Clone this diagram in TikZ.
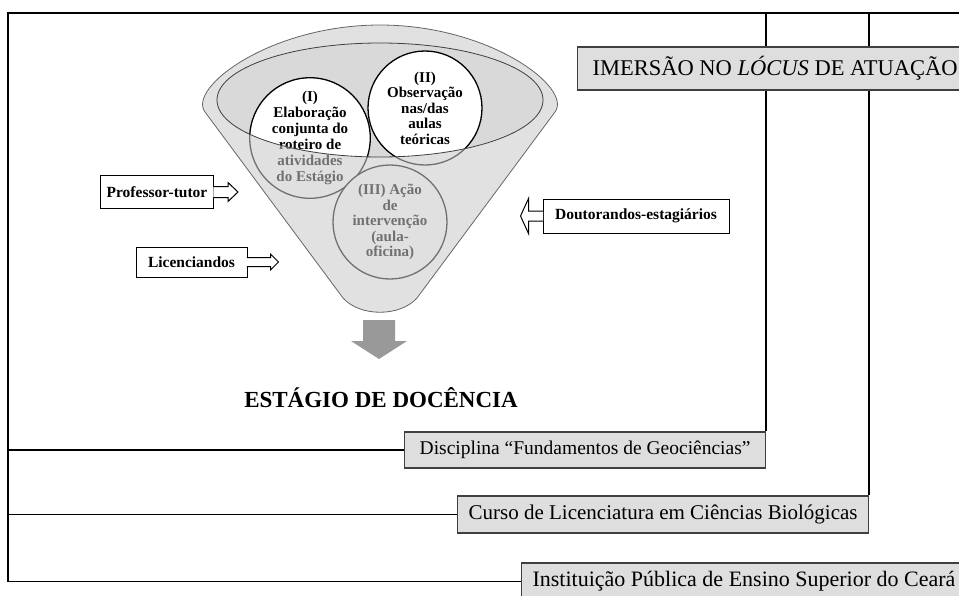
\documentclass[tikz,border=0pt]{standalone}
\usepackage{fontspec}
\setmainfont{Liberation Serif}
\usepackage{tikz}
\usetikzlibrary{backgrounds}

\tikzset{
	levelbox/.style = {draw=black!75, line width=1.2pt, fill=black!13, inner ysep=0pt, minimum height=36, anchor=west},
	actor/.style = {draw, line width=1pt, fill=white, inner sep=0pt, font=\fontsize{15.5}{18}\selectfont\bfseries},
	hollow/.style = {draw, line width=1pt, fill=white, line join=miter},
	frameline/.style = {line width=1.5pt}
}

\begin{document}
\begin{tikzpicture}[x=1pt, y=-1pt]
		\useasboundingbox (0,0) rectangle (959,595);
		\clip (0,0) rectangle (959,595);
		\coordinate (tl) at (8,13);
		\coordinate (tr) at (959,13);
		\begin{scope}[every node/.style = {levelbox}]
			\node[minimum width=361, inner xsep=0pt, font=\fontsize{19.5}{24}\selectfont] (disc) at (404,450) {Disciplina “Fundamentos de Geociências”};
			\node[minimum width=411, inner xsep=0pt, minimum height=37, font=\fontsize{21}{25}\selectfont] (curso) at (457,514.5) {Curso de Licenciatura em Ciências Biológicas};
			\node[inner xsep=11, minimum height=37, font=\fontsize{22}{26}\selectfont] (inst) at (521,581.5) {Instituição Pública de Ensino Superior do Ceará};
			\node[inner xsep=15, minimum height=43, font=\fontsize{22.5}{26}\selectfont] (imersao) at (577,68.5) {IMERSÃO NO \textit{LÓCUS} DE ATUAÇÃO};
		\end{scope}
		\begin{pgfonlayer}{background}
			\begin{scope}[frameline]
				\draw (inst.west) -| (tl) -- (tr);
				\draw (curso.west) -- (curso.west -| tl);
				\draw (disc.west) -- (disc.west -| tl);
				\draw (disc.north east) -- (disc.north east |- tl);
				\draw (curso.north east) -- (curso.north east |- tl);
			\end{scope}
		\end{pgfonlayer}
		\fill[black!15] (380,100) ellipse [x radius=163, y radius=57];
		\begin{scope}[every node/.style = {circle, draw, line width=1.3pt, fill=white, minimum size=114, inner sep=0pt, align=center, font=\fontsize{15}{15.5}\selectfont\bfseries}]
			\node[minimum size=112, font=\fontsize{15}{16}\selectfont\bfseries] (s1) at (310,138) {(I)\\Elaboração\\conjunta do\\roteiro de\\atividades\\do Estágio};
			\node (s2) at (425,108) {(II)\\Observação\\nas/das\\aulas\\teóricas};
			\node (s3) at (390,222) {(III) Ação\\de\\intervenção\\(aula-\\oficina)};
		\end{scope}
		\fill[black!21, fill opacity=0.56, even odd rule] (343,298) -- (205,112) .. controls (187,88) and (270,25) .. (380,25) .. controls (490,25) and (573,88) .. (555,112) -- (417,298) .. controls (400,317) and (360,317) .. (343,298) -- cycle (380,100) ellipse [x radius=163, y radius=57];
		\draw[black!60, line width=0.8pt] (343,298) -- (205,112) .. controls (187,88) and (270,25) .. (380,25) .. controls (490,25) and (573,88) .. (555,112) -- (417,298) .. controls (400,317) and (360,317) .. (343,298) -- cycle;
		\draw[black!75, line width=0.8pt] (380,100) ellipse [x radius=163, y radius=57];
		\fill[black!40] (363,320) -- (395,320) -- (395,341) -- (407,341) -- (379,359) -- (351,341) -- (363,341) -- cycle;
		\node[anchor=base, font=\fontsize{23}{28}\selectfont\bfseries] (title) at (381,407) {ESTÁGIO DE DOCÊNCIA};
		\begin{scope}[every node/.style = {actor}]
			\node[minimum width=113, minimum height=33] (prof) at (157,192) {Professor-tutor};
			\node[minimum width=111, minimum height=30] (lic) at (191.5,262) {Licenciandos};
			\node[minimum width=186, minimum height=34] (dout) at (636,216) {Doutorandos-estagiários};
		\end{scope}
		\draw[hollow] (prof.east) ++(-0.6,-5.5) -- ++(14.6,0) -- ++(0,-4) -- ++(10,9.5) -- ++(-10,9.5) -- ++(0,-4) -- ++(-14.6,0);
		\draw[hollow] (lic.east) ++(-0.6,-4.5) -- ++(23.6,0) -- ++(0,-3.5) -- ++(8,8) -- ++(-8,8) -- ++(0,-3.5) -- ++(-23.6,0);
		\draw[hollow] (dout.west) ++(0.6,-5) -- ++(-14.6,0) -- ++(0,-12.5) -- ++(-8,17.5) -- ++(8,17.5) -- ++(0,-12.5) -- ++(14.6,0);
	\end{tikzpicture}
\end{document}
